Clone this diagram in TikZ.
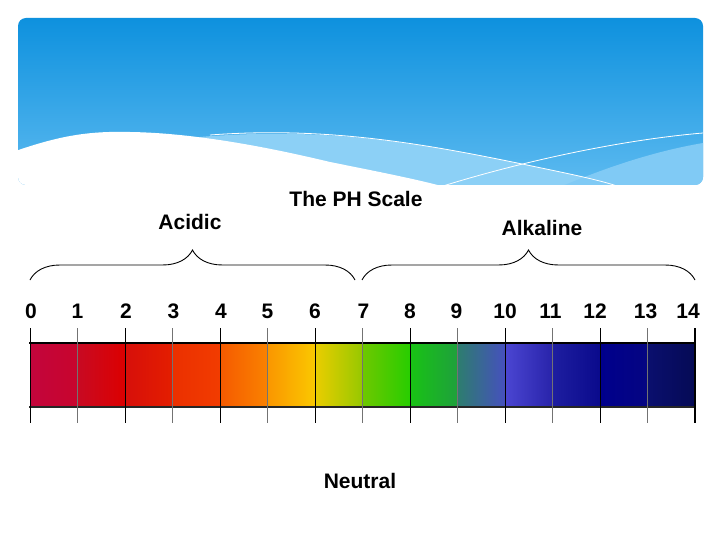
\documentclass[tikz,border=0pt]{standalone}
\usepackage{fontspec}
\setmainfont{Liberation Sans}
\usepackage{tikz}
\usetikzlibrary{decorations.pathreplacing,positioning}
\definecolor{skytop}{RGB}{14,145,222}
\definecolor{skybot}{RGB}{92,186,240}
\definecolor{skylight}{RGB}{140,208,246}
\definecolor{skypale}{RGB}{128,202,245}
% pH bar segments, left and right colour of each
\definecolor{seg0l}{RGB}{195,5,60}\definecolor{seg0r}{RGB}{200,5,45}
\definecolor{seg1l}{RGB}{200,10,35}\definecolor{seg1r}{RGB}{220,0,0}
\definecolor{seg2l}{RGB}{215,15,10}\definecolor{seg2r}{RGB}{228,30,0}
\definecolor{seg3l}{RGB}{235,48,0}\definecolor{seg3r}{RGB}{242,60,0}
\definecolor{seg4l}{RGB}{245,90,0}\definecolor{seg4r}{RGB}{250,130,0}
\definecolor{seg5l}{RGB}{250,150,0}\definecolor{seg5r}{RGB}{250,200,0}
\definecolor{seg6l}{RGB}{235,205,0}\definecolor{seg6r}{RGB}{150,200,0}
\definecolor{seg7l}{RGB}{110,200,0}\definecolor{seg7r}{RGB}{40,205,0}
\definecolor{seg8l}{RGB}{25,195,20}\definecolor{seg8r}{RGB}{30,160,60}
\definecolor{seg9l}{RGB}{45,125,110}\definecolor{seg9r}{RGB}{70,80,190}
\definecolor{seg10l}{RGB}{75,70,210}\definecolor{seg10r}{RGB}{40,35,170}
\definecolor{seg11l}{RGB}{30,30,160}\definecolor{seg11r}{RGB}{10,10,140}
\definecolor{seg12l}{RGB}{0,0,140}\definecolor{seg12r}{RGB}{5,5,130}
\definecolor{seg13l}{RGB}{10,15,110}\definecolor{seg13r}{RGB}{5,10,85}

\begin{document}
\begin{tikzpicture}[x=1pt,y=-1pt,font=\bfseries\fontsize{21}{23}\selectfont,
 lbl/.style={inner sep=0pt},
 curly/.style={decorate,decoration={brace,amplitude=30pt},line width=0.9pt},
 wline/.style={white,line width=0.8pt}]
\useasboundingbox[fill=white] (0,0) rectangle (720,540);
% banner
\shade[top color=skytop,bottom color=skybot,rounded corners=8pt] (18,18) rectangle (703,185);
\begin{scope}
\clip[rounded corners=8pt] (18,18) rectangle (703,185);
\fill[skylight] (200,137) .. controls (330,126) and (430,145) .. (527,165) .. controls (570,174) and (600,180) .. (620,187) -- (200,187) -- cycle;
\fill[skypale] (703,143) .. controls (650,152) and (600,170) .. (560,187) -- (703,187) -- cycle;
\fill[white] (10,153) .. controls (60,135) and (90,131) .. (130,132) .. controls (200,133) and (280,150) .. (330,162) .. controls (380,172) and (420,180) .. (445,187) -- (10,187) -- cycle;
\draw[wline] (210,135) .. controls (330,126) and (430,145) .. (527,165) .. controls (570,174) and (600,180) .. (620,187);
\draw[wline] (443,186) .. controls (520,162) and (620,140) .. (703,133);
\end{scope}
% titles
\node[lbl] (title) at (356,199) {The PH Scale};
\node[lbl] (acid) at (190,222) {Acidic};
\node[lbl] (alk) at (542,228) {Alkaline};
\node[lbl] (neut) at (360,481) {Neutral};
% braces
\coordinate (acL) at (30,280);
\coordinate (acR) at (355,280);
\coordinate (alL) at (362,280);
\coordinate (alR) at (695,280);
\draw[curly] (acL) -- (acR);
\draw[curly] (alL) -- (alR);
% bar
\foreach \i in {0,...,13}
  \shade[left color=seg\i l,right color=seg\i r] ({30+47.5*\i},343) rectangle ({30+47.5*(\i+1)},407);
\draw[line width=1.8pt] (29,343) -- (696,343);
\draw[line width=1.2pt,black!85] (29,407) -- (696,407);
% ticks and numbers
\foreach \i/\dx in {0/1,1/0,2/1,3/1,4/1,5/0,6/0,7/1,8/0,9/-1,10/0,11/-2,12/-5,13/-2,14/-7} {
  \coordinate (t\i) at ({30+47.5*\i},328);
  \coordinate (b\i) at ({30+47.5*\i},423);
  \node[lbl] (n\i) at ({30+47.5*\i+\dx},311) {\i};
}
\foreach \i in {0,2,...,12}
  \draw[line width=1pt,black] (t\i) -- (b\i);
\foreach \i in {1,3,...,13}
  \draw[line width=1.3pt,black!55] (t\i) -- (b\i);
\draw[line width=2.2pt] (t14) -- (b14);
\end{tikzpicture}
\end{document}
